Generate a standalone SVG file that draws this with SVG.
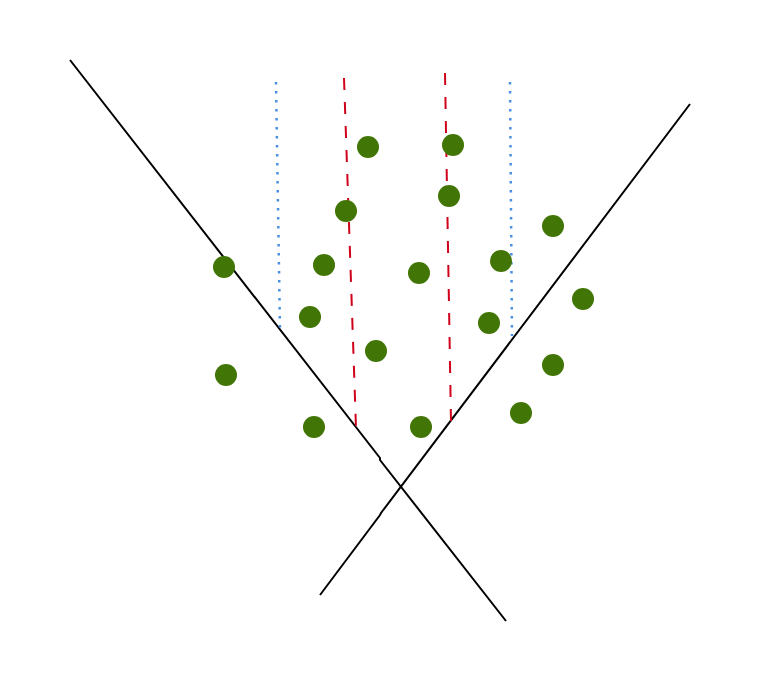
<svg xmlns="http://www.w3.org/2000/svg" width="760" height="674" viewBox="0 0 760 674">
<style>
.ln{stroke:#000;stroke-width:2;fill:none}
.dot{stroke:#4a90e2;stroke-width:2.5;stroke-dasharray:2.5 6.5;fill:none}
.dash{stroke:#d0021b;stroke-width:2;stroke-dasharray:12 12;fill:none}
.pt{fill:#417505}
</style>
<rect width="760" height="674" fill="#fff"/>
<g id="connectors">
<polyline class="ln" points="70,60 380,458 380,460 506,621"/>
<polyline class="ln" points="690,104 381,513 380,515 320,595"/>
<line class="dot" x1="276" y1="82" x2="280" y2="330"/>
<line class="dot" x1="510" y1="82" x2="512" y2="336"/>
<line class="dash" x1="344" y1="78" x2="356" y2="428"/>
<line class="dash" x1="445" y1="73" x2="451" y2="422"/>
</g>
<g id="points">
<circle id="p1" class="pt" cx="368" cy="147" r="11"/>
<circle id="p2" class="pt" cx="453" cy="145" r="11"/>
<circle id="p3" class="pt" cx="346" cy="211" r="11"/>
<circle id="p4" class="pt" cx="449" cy="196" r="11"/>
<circle id="p5" class="pt" cx="553" cy="226" r="11"/>
<circle id="p6" class="pt" cx="224" cy="267" r="11"/>
<circle id="p7" class="pt" cx="324" cy="265" r="11"/>
<circle id="p8" class="pt" cx="419" cy="273" r="11"/>
<circle id="p9" class="pt" cx="501" cy="261" r="11"/>
<circle id="p10" class="pt" cx="583" cy="299" r="11"/>
<circle id="p11" class="pt" cx="310" cy="317" r="11"/>
<circle id="p12" class="pt" cx="489" cy="323" r="11"/>
<circle id="p13" class="pt" cx="376" cy="351" r="11"/>
<circle id="p14" class="pt" cx="226" cy="375" r="11"/>
<circle id="p15" class="pt" cx="553" cy="365" r="11"/>
<circle id="p16" class="pt" cx="314" cy="427" r="11"/>
<circle id="p17" class="pt" cx="421" cy="427" r="11"/>
<circle id="p18" class="pt" cx="521" cy="413" r="11"/>
</g>
</svg>
